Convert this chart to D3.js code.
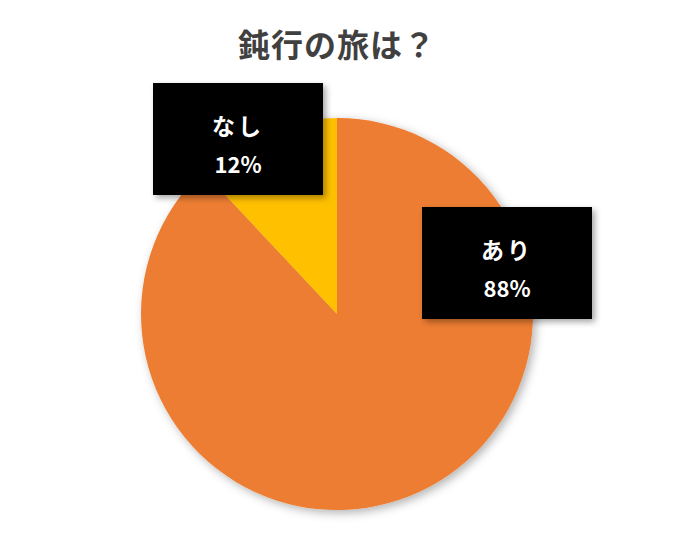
<!DOCTYPE html>
<html>
<head>
<meta charset="utf-8">
<script src="https://cdn.jsdelivr.net/npm/d3@7"></script>
<style>
  body { margin: 0; background: #fff; }
  text { font-family: "Noto Sans CJK JP", "Noto Sans", sans-serif; }
</style>
</head>
<body>
<div id="chart"></div>
<script>
// Data
var categories = ["あり", "なし"];
var values = [88, 12];
var colors = ["#ED7D31", "#FFC000"];
var title = "鈍行の旅は？";

// Layout
var width = 685, height = 543;
var cx = 337, cy = 314, radius = 196;
var boxW = 170, boxH = 112;
// label box centers relative to the pie centre
var labelOffset = [[170, -51], [-99, -175]];

var svg = d3.select("#chart").append("svg")
  .attr("width", width)
  .attr("height", height);

var defs = svg.append("defs");
var shadow = defs.append("filter").attr("id", "shadow")
  .attr("x", "-20%").attr("y", "-20%").attr("width", "140%").attr("height", "140%");
shadow.append("feDropShadow")
  .attr("dx", 3).attr("dy", 3).attr("stdDeviation", 5)
  .attr("flood-color", "#000").attr("flood-opacity", 0.3);

var boxShadow = defs.append("filter").attr("id", "boxShadow")
  .attr("x", "-20%").attr("y", "-20%").attr("width", "140%").attr("height", "140%");
boxShadow.append("feDropShadow")
  .attr("dx", 3).attr("dy", 3).attr("stdDeviation", 3)
  .attr("flood-color", "#000").attr("flood-opacity", 0.35);

svg.append("text")
  .attr("x", cx)
  .attr("y", 57)
  .attr("text-anchor", "middle")
  .style("font-size", "32px")
  .style("font-weight", "bold")
  .style("fill", "#404040")
  .style("letter-spacing", "1px")
  .text(title);

var pie = d3.pie().sort(null).value(function(d) { return d; });
var arc = d3.arc().innerRadius(0).outerRadius(radius);

var g = svg.append("g").attr("transform", "translate(" + cx + "," + cy + ")");

g.append("g").attr("filter", "url(#shadow)")
  .selectAll("path")
  .data(pie(values))
  .enter()
  .append("path")
    .attr("d", arc)
    .style("fill", function(d, i) { return colors[i]; });

var labels = g.selectAll(".label")
  .data(pie(values))
  .enter()
  .append("g")
    .attr("class", "label")
    .attr("transform", function(d, i) {
      return "translate(" + labelOffset[i][0] + "," + labelOffset[i][1] + ")";
    });

labels.append("rect")
  .attr("x", -boxW / 2)
  .attr("y", -boxH / 2)
  .attr("width", boxW)
  .attr("height", boxH)
  .attr("filter", "url(#boxShadow)")
  .style("fill", "#000");

labels.append("text")
  .attr("text-anchor", "middle")
  .attr("y", -4)
  .style("font-size", "23px")
  .style("font-weight", "bold")
  .style("fill", "#fff")
  .style("letter-spacing", "3px")
  .text(function(d, i) { return categories[i]; });

labels.append("text")
  .attr("text-anchor", "middle")
  .attr("y", 34)
  .style("font-size", "22px")
  .style("font-weight", "bold")
  .style("fill", "#fff")
  .text(function(d) { return d.data + "%"; });
</script>
</body>
</html>
